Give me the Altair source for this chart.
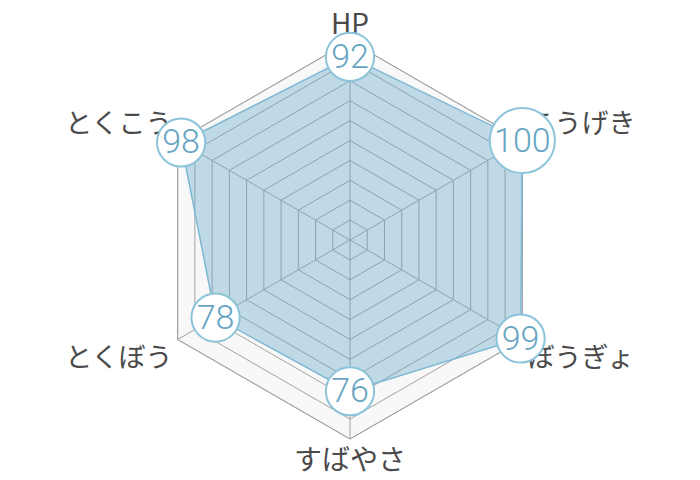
import math
import pandas as pd
import altair as alt

# ---- data ----
categories = ["HP", "こうげき", "ぼうぎょ", "すばやさ", "とくぼう", "とくこう"]
values = [92, 100, 99, 76, 78, 98]
levels = [10, 20, 30, 40, 50, 60, 70, 80, 90, 100]
max_value = 100

# ---- geometry helpers (pixels per value unit) ----
PX = 1.99
W, H = 684, 464
CX, CY = 342, 232
xs = alt.Scale(domain=[-CX / PX, (W - CX) / PX], nice=False, zero=False)
ys = alt.Scale(domain=[-(H - CY) / PX, CY / PX], nice=False, zero=False)
n = len(categories)


def sx(k):
    return math.sin(2 * math.pi * k / n)


def cy(k):
    return math.cos(2 * math.pi * k / n)


ring_df = pd.DataFrame(
    [{"level": lv, "k": k, "x": lv * sx(k), "y": lv * cy(k)} for lv in levels for k in range(n)]
)
outer_df = ring_df[ring_df["level"] == max_value]
spoke_df = pd.DataFrame(
    [{"x0": 0.0, "y0": 0.0, "x1": max_value * sx(k), "y1": max_value * cy(k)} for k in range(n)]
)
poly_df = pd.DataFrame(
    [{"k": k, "cat": categories[k], "v": values[k], "x": values[k] * sx(k), "y": values[k] * cy(k),
      "label": str(values[k])} for k in range(n)]
)
poly_df["sz"] = poly_df["label"].str.len().map(lambda L: math.pi * (8 + 9.6 * L) ** 2)

PAD = 6 / PX
HALF = 14.5 / PX
lab_rows = []
for k in range(n):
    ax = (max_value + PAD) * sx(k)
    ay = (max_value + PAD) * cy(k)
    s = sx(k)
    if abs(s) < 1e-6:
        pos = "top" if cy(k) > 0 else "bottom"
    else:
        pos = "left" if s > 0 else "right"
    lab_rows.append({"cat": categories[k], "x": ax, "y": ay + (HALF if cy(k) > 0 else -HALF), "pos": pos})
lab_df = pd.DataFrame(lab_rows)

X = lambda f: alt.X(f, scale=xs, axis=None)
Y = lambda f: alt.Y(f, scale=ys, axis=None)

bg = alt.Chart(outer_df).mark_line(
    interpolate="linear-closed", fill="#f8f8f8", stroke="#a0a0a0", strokeWidth=1
).encode(x=X("x:Q"), y=Y("y:Q"), order="k:Q")

rings = alt.Chart(ring_df).mark_line(
    interpolate="linear-closed", stroke="#a3a3a3", strokeWidth=1
).encode(x=X("x:Q"), y=Y("y:Q"), detail="level:N", order="k:Q")

spokes = alt.Chart(spoke_df).mark_rule(stroke="#a3a3a3", strokeWidth=1).encode(
    x=X("x0:Q"), y=Y("y0:Q"), x2="x1:Q", y2="y1:Q"
)

poly = alt.Chart(poly_df).mark_line(
    interpolate="linear-closed", fill="#5fa3c7", fillOpacity=0.36, stroke="#7db8d4", strokeWidth=1.5
).encode(x=X("x:Q"), y=Y("y:Q"), order="k:Q")

circles = alt.Chart(poly_df).mark_point(
    shape="circle", filled=True, fill="white", stroke="#8cc4da", strokeWidth=2, opacity=1, fillOpacity=1
).encode(x=X("x:Q"), y=Y("y:Q"), size=alt.Size("sz:Q", scale=None, legend=None))

nums = alt.Chart(poly_df).mark_text(
    font="Roboto", fontWeight=300, fontSize=34, color="#66a5c3", baseline="middle", align="center", dy=1
).encode(x=X("x:Q"), y=Y("y:Q"), text="label:N")

label_layers = []
for pos, al, ddy, fs in [("left", "left", 2, 27), ("right", "right", 2, 27),
                         ("top", "center", 5, 28), ("bottom", "center", 2, 28)]:
    label_layers.append(
        alt.Chart(lab_df).transform_filter(alt.datum.pos == pos).mark_text(
            font="Noto Sans CJK JP", fontSize=fs, color="#4a4a4a", baseline="middle", align=al, dy=ddy
        ).encode(x=X("x:Q"), y=Y("y:Q"), text="cat:N")
    )

chart = alt.layer(bg, rings, spokes, poly, *label_layers, circles, nums).properties(
    width=W, height=H, autosize=alt.AutoSizeParams(type="none"), padding=0
).configure_view(stroke=None)

chart.save("out.html", embed_options={"renderer": "svg", "actions": False})
